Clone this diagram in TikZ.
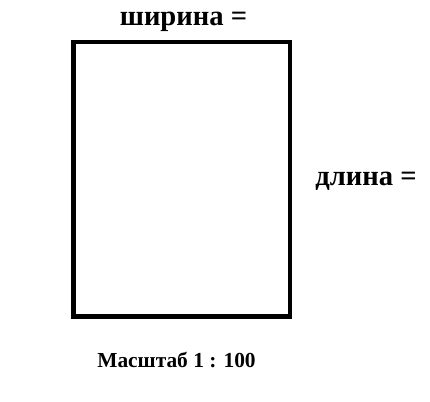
\documentclass[tikz,border=0pt]{standalone}
\usepackage{fontspec}
\setmainfont{Liberation Serif}
\tikzset{
  lbl/.style={font=\bfseries\fontsize{28.6}{32}\selectfont, inner sep=0pt, anchor=base},
  scalelbl/.style={font=\bfseries\fontsize{21.4}{25}\selectfont, inner sep=0pt, anchor=base},
  plan/.style={draw=black, line width=4.5pt}
}
\begin{document}
\begin{tikzpicture}[x=1pt,y=1pt]
\useasboundingbox (0,0) rectangle (430,401);
\draw[plan] (73.5,359) rectangle (290,84.5);
\node[lbl] (w) at (183.5,375) {ширина =};
\node[lbl] (l) at (366,215) {длина =};
\node[scalelbl] (s) at (176.5,33.3) {Масштаб 1 : 100};
\end{tikzpicture}
\end{document}
